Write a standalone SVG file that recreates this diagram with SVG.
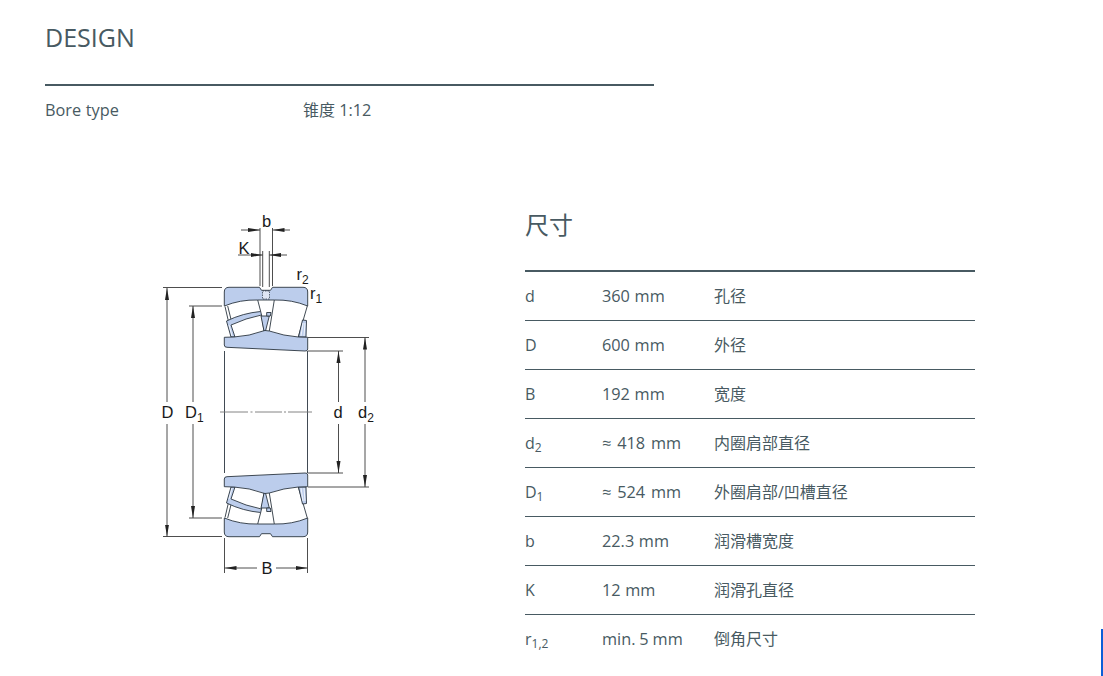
<svg xmlns="http://www.w3.org/2000/svg" xmlns:xlink="http://www.w3.org/1999/xlink" width="1103" height="676" viewBox="0 0 1103 676">
<style>
.t{font-family:"Open Sans","Noto Sans CJK SC",sans-serif;font-size:16px;fill:#485a62}
.v{font-size:16.3px;word-spacing:.4px}
.ap{word-spacing:1.600px}
.mn{word-spacing:-.3px}
.h{font-family:"Open Sans","Noto Sans CJK SC",sans-serif;fill:#485a62}
.rule{stroke:#485a62;stroke-width:1;fill:none}
.rule2{stroke:#485a62;stroke-width:2;fill:none}
.dim{font-family:"Liberation Sans",Arial,sans-serif;font-size:16.500px;fill:#1a1a1a}
.sub{font-size:12px}
.ds{font-size:12px}
.d{stroke:#3a3a3a;stroke-width:.9;fill:none}
.c{stroke:#777;stroke-width:.9;fill:none}
.m{stroke:#2b3540;stroke-width:.9;fill:#bccdec;stroke-linejoin:round}
.l{stroke:#2b3540;stroke-width:.9;fill:none}
.wl{stroke:#fff;stroke-width:.8;fill:none}
</style>
<defs>
<marker id="a" viewBox="0 0 12 5" refX="12" refY="2.500" markerWidth="12" markerHeight="5" markerUnits="userSpaceOnUse" orient="auto"><path d="M0 .5L12 2.500L0 4.500Z" fill="#222"/></marker>
<g id="half">
<path class="l" d="M225 306.500L228.300 320.700M227.700 306L231 319.300"/>
<path class="l" d="M257.700 300L260.700 311.500M274.300 300L269.300 331M307.300 306L298.300 337M261.500 315L264 331"/>
<path class="m" d="M226.500 321Q243 313 260.700 311.500L261.500 315Q246 318 231 325L235 337L231 337Z"/>
<path class="wl" d="M229 325L232 336"/>
<path class="m" d="M261 316L269.300 316L265.500 331L264 331Z"/>
<path class="m" d="M266.700 312.500L271 312.500L270.300 316L266.700 316Z"/>
<path class="m" d="M302.500 320L306.500 320.500L306 337L298.500 337Z"/>
<path class="wl" d="M303 323L301 336M305 323L304 336"/>
<path class="m" d="M224.300 292Q224.300 287.300 229 287.300L259.500 287.300L261.500 290.300L270.500 290.300L272.500 287.300L303 287.300Q307.700 287.300 307.700 292L307.700 306Q292 299.500 274.300 300L257.700 300Q240 299.500 224.300 306Z"/>
<path class="m" d="M224.300 337.300L234 337Q250 336 263 331L265 330.500L269.300 331Q284 336 298.300 337L307.700 337.300L307.700 349Q307.700 351.200 305 351L227 347.300Q224.300 347.300 224.300 345Z"/>
</g>
</defs>
<g id="header">
<text class="h" x="45" y="47" font-size="25">DESIGN</text>
<path class="rule2" d="M45 85H654"/>
<text class="t v" x="45" y="116">Bore type</text>
<text class="t" x="303" y="116">锥度 <tspan class="v">1:12</tspan></text>
</g>
<g id="bearing">
<use xlink:href="#half" href="#half"/>
<use xlink:href="#half" href="#half" transform="matrix(1 0 0 -1 0 824)"/>
<path d="M262.500 291H269.500V299H262.500Z" fill="#dfe6f4" stroke="#2b3540" stroke-width=".7" stroke-dasharray="1.500 1"/>
<path class="l" d="M224.500 351V473M307.500 351V473"/>
</g>
<g id="connectors">
<path class="d" d="M163 287.500H222M189 306H222M163 536.500H222M189 518H222M308 337.500H369M308 351H343M308 473H343M308 487H369"/>
<path class="c" d="M220 412H248M250.500 412H252.500M255 412H282M284 412H286M288 412H312"/>
<path class="d" d="M167 402V288" marker-end="url(#a)"/><path class="d" d="M167 424V536.500" marker-end="url(#a)"/>
<path class="d" d="M193 402V306" marker-end="url(#a)"/><path class="d" d="M193 424V518" marker-end="url(#a)"/>
<path class="d" d="M338.500 402V351" marker-end="url(#a)"/><path class="d" d="M338.500 424V473" marker-end="url(#a)"/>
<path class="d" d="M365 402V337.500" marker-end="url(#a)"/><path class="d" d="M365 424V487" marker-end="url(#a)"/>
<path class="d" d="M224.500 538V573M307.500 538V573"/>
<path class="d" d="M257 568H224.500" marker-end="url(#a)"/><path class="d" d="M276 568H307.500" marker-end="url(#a)"/>
<path class="d" d="M260 228V286M272.500 228V286M262.700 251V287M269.300 251V287"/>
<path class="d" d="M241 230H260" marker-end="url(#a)"/><path class="d" d="M290 230H272.500" marker-end="url(#a)"/>
<path class="d" d="M238 255H262.700" marker-end="url(#a)"/><path class="d" d="M287 255H269.300" marker-end="url(#a)"/>
</g>
<g id="dim-labels">
<text class="dim" x="262" y="226.500">b</text>
<text class="dim" x="238.500" y="254">K</text>
<text class="dim" x="296.500" y="280">r<tspan class="ds" dy="4">2</tspan></text>
<text class="dim" x="310" y="298.500">r<tspan class="ds" dy="4">1</tspan></text>
<text class="dim" x="161.500" y="418">D</text>
<text class="dim" x="185" y="418">D<tspan class="ds" dy="4">1</tspan></text>
<text class="dim" x="333.500" y="418">d</text>
<text class="dim" x="358" y="418">d<tspan class="ds" dy="4">2</tspan></text>
<text class="dim" x="261.500" y="574">B</text>
</g>
<g id="table">
<text class="h" x="525" y="234" font-size="24">尺寸</text>
<path class="rule2" d="M525 271H975"/>
<path class="rule" d="M525 320.500H975M525 369.500H975M525 418.500H975M525 467.500H975M525 516.500H975M525 565.500H975M525 614.500H975"/>
<text class="t" x="525" y="302">d</text><text class="t v" x="602" y="302">360 mm</text><text class="t" x="714" y="302">孔径</text>
<text class="t" x="525" y="351">D</text><text class="t v" x="602" y="351">600 mm</text><text class="t" x="714" y="351">外径</text>
<text class="t" x="525" y="400">B</text><text class="t v" x="602" y="400">192 mm</text><text class="t" x="714" y="400">宽度</text>
<text class="t" x="525" y="449">d<tspan class="sub" dy="3">2</tspan></text><text class="t v ap" x="602" y="449">≈ 418 mm</text><text class="t" x="714" y="449">内圈肩部直径</text>
<text class="t" x="525" y="498">D<tspan class="sub" dy="3">1</tspan></text><text class="t v ap" x="602" y="498">≈ 524 mm</text><text class="t" x="714" y="498">外圈肩部/凹槽直径</text>
<text class="t" x="525" y="547">b</text><text class="t v" x="602" y="547">22.3 mm</text><text class="t" x="714" y="547">润滑槽宽度</text>
<text class="t" x="525" y="596">K</text><text class="t v" x="602" y="596">12 mm</text><text class="t" x="714" y="596">润滑孔直径</text>
<text class="t" x="525" y="645">r<tspan class="sub" dy="3">1,2</tspan></text><text class="t v mn" x="602" y="645">min. 5 mm</text><text class="t" x="714" y="645">倒角尺寸</text>
</g>
<rect id="scroll-mark" x="1101" y="629" width="2" height="47" fill="#0b5ed7"/>
</svg>
